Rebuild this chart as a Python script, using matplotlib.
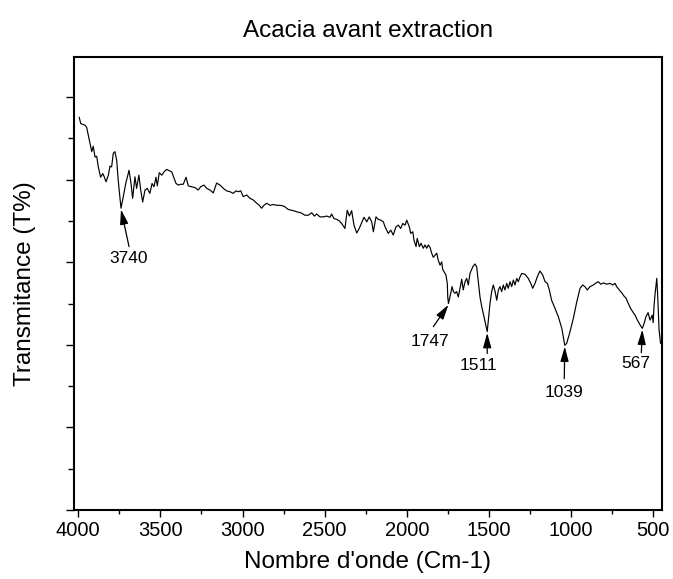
import numpy as np
import matplotlib
matplotlib.use("Agg")
import matplotlib.pyplot as plt
from matplotlib.ticker import MultipleLocator, NullFormatter

# FTIR spectrum of Acacia before extraction
wavenumber = [
    3994, 3985, 3959, 3949, 3933, 3918, 3909, 3898, 3888, 3878, 3864, 3851, 3842, 3831,
    3817, 3807, 3797, 3787, 3777, 3766, 3757, 3740, 3726, 3711, 3691, 3679, 3669, 3655,
    3645, 3631, 3620, 3608, 3594, 3580, 3564, 3551, 3539, 3527, 3519, 3507, 3492, 3478,
    3462, 3446, 3431, 3422, 3405, 3391, 3377, 3361, 3344, 3330, 3310, 3290, 3270, 3255,
    3235, 3218, 3198, 3178, 3158, 3137, 3117, 3097, 3077, 3057, 3040, 3026, 3011, 2996,
    2975, 2955, 2935, 2914, 2898, 2884, 2870, 2853, 2833, 2813, 2792, 2772, 2748, 2722,
    2691, 2667, 2646, 2620, 2600, 2579, 2563, 2549, 2529, 2509, 2488, 2468, 2458, 2444,
    2427, 2411, 2397, 2377, 2363, 2350, 2336, 2322, 2305, 2290, 2275, 2261, 2244, 2229,
    2214, 2204, 2188, 2174, 2159, 2143, 2133, 2113, 2098, 2083, 2066, 2052, 2038, 2025,
    2011, 2001, 1985, 1977, 1964, 1957, 1944, 1937, 1924, 1914, 1900, 1890, 1879, 1870,
    1859, 1849, 1839, 1829, 1818, 1809, 1798, 1788, 1782, 1768, 1762, 1754, 1751, 1747,
    1733, 1725, 1717, 1707, 1697, 1687, 1677, 1666, 1657, 1646, 1636, 1626, 1616, 1599,
    1585, 1575, 1565, 1555, 1544, 1535, 1524, 1511, 1504, 1494, 1484, 1474, 1463, 1453,
    1443, 1433, 1423, 1413, 1403, 1392, 1383, 1372, 1362, 1352, 1342, 1331, 1322, 1311,
    1301, 1281, 1261, 1246, 1234, 1220, 1206, 1190, 1173, 1159, 1145, 1133, 1119, 1098,
    1078, 1057, 1039, 1027, 1007, 987, 966, 946, 930, 916, 902, 885, 865, 849,
    835, 820, 804, 784, 764, 747, 733, 723, 707, 692, 678, 666, 652, 638,
    625, 611, 597, 580, 567, 556, 545, 532, 520, 507, 501, 496, 490, 479,
    473, 465, 456,
]
transmittance = [
    95.1, 93.6, 93.2, 92.7, 89.6, 86.8, 88.1, 85.5, 85.7, 83.1, 80.6, 81.5, 80.7, 79.5,
    81.1, 83.3, 83.1, 86.4, 86.8, 84.7, 79.9, 73.1, 75.9, 79.1, 82.3, 79.1, 75.5, 80.7,
    77.9, 81.1, 77.5, 74.6, 77.5, 77.9, 76.7, 79.1, 78.3, 80.6, 78.5, 81.7, 81.1, 81.9,
    82.5, 82.2, 81.9, 80.9, 79.1, 78.7, 78.9, 78.9, 80.6, 78.5, 78.3, 78.1, 77.5, 78.3,
    78.7, 77.9, 77.5, 76.8, 79.2, 78.7, 77.9, 77.3, 77.1, 76.7, 77.3, 77.1, 77.3, 75.9,
    76.3, 75.5, 75.1, 74.3, 73.8, 73.1, 73.8, 74.3, 73.8, 74.0, 73.8, 73.8, 73.6, 72.8,
    72.5, 72.2, 72.0, 71.4, 71.4, 72.0, 71.2, 71.7, 71.0, 71.0, 71.2, 70.9, 71.7, 70.6,
    70.4, 70.0, 69.4, 68.2, 72.6, 71.2, 72.5, 69.0, 67.1, 68.2, 69.6, 70.9, 69.8, 71.0,
    69.8, 67.4, 71.0, 70.4, 70.2, 69.8, 68.6, 67.0, 67.8, 66.6, 68.6, 69.0, 68.2, 69.4,
    69.0, 70.2, 68.6, 67.0, 67.4, 65.4, 63.8, 65.8, 63.8, 64.6, 63.4, 64.2, 63.4, 64.2,
    63.6, 62.2, 61.2, 61.7, 62.2, 60.5, 59.3, 60.1, 58.3, 57.3, 56.9, 54.9, 51.5, 50.0,
    52.5, 54.1, 52.9, 52.5, 52.9, 51.6, 53.7, 55.9, 53.3, 55.3, 56.1, 54.5, 57.3, 58.9,
    59.6, 58.9, 55.3, 51.6, 49.2, 47.6, 45.6, 43.2, 46.0, 50.0, 52.9, 54.5, 52.9, 50.8,
    53.3, 54.1, 52.9, 54.5, 53.3, 54.9, 53.7, 55.3, 54.1, 55.7, 54.5, 56.1, 55.3, 56.5,
    57.3, 57.1, 56.1, 54.9, 53.7, 54.9, 56.5, 57.9, 56.9, 55.3, 54.9, 53.3, 50.8, 48.8,
    46.8, 44.0, 39.9, 40.4, 43.2, 46.4, 50.4, 53.7, 54.5, 54.1, 53.3, 54.1, 54.5, 55.0,
    55.3, 54.7, 55.0, 54.7, 54.9, 54.5, 54.9, 54.1, 53.3, 52.6, 51.8, 51.3, 50.0, 48.8,
    48.0, 47.2, 46.0, 44.8, 44.0, 45.2, 46.8, 47.8, 46.0, 47.2, 45.4, 49.2, 52.1, 56.1,
    51.6, 43.6, 40.4,
]

# Marked absorption bands
peak_positions = [3740, 1747, 1511, 1039, 567]
peak_labels = [str(p) for p in peak_positions]

# Label / arrow-tail offsets from each arrow tip (wavenumber, transmittance units)
label_offsets = [(-44, -11.9), (112, -9.0), (51, -8.0), (6, -11.1), (38, -8.2)]
tail_offsets = [(-49, -9.0), (92, -5.3), (0, -5.0), (3, -7.8), (6, -5.6)]

plt.rcParams["font.family"] = ["Liberation Sans", "DejaVu Sans"]

fig = plt.figure(figsize=(6.73, 5.79), dpi=100)
W, H = 673, 579
left, right, top, bottom = 74, 661.7, 56.7, 510
ax = fig.add_axes([left / W, 1 - bottom / H, (right - left) / W, (bottom - top) / H])

ax.plot(wavenumber, transmittance, color="black", lw=0.85)

ax.set_xlim(4026, 449)
ax.set_ylim(0, 109.8)

ax.xaxis.set_major_locator(MultipleLocator(500))
ax.xaxis.set_minor_locator(MultipleLocator(250))
ax.yaxis.set_major_locator(MultipleLocator(20))
ax.yaxis.set_minor_locator(MultipleLocator(10))
ax.yaxis.set_major_formatter(NullFormatter())

ax.tick_params(axis="x", which="major", direction="out", length=5, width=1.0,
               labelsize=14.5, pad=3, top=False)
ax.tick_params(axis="x", which="minor", direction="out", length=3, width=1.0, top=False)
ax.tick_params(axis="y", which="major", direction="out", length=6, width=1.0, right=False)
ax.tick_params(axis="y", which="minor", direction="out", length=4, width=1.0, right=False)

for side in ax.spines.values():
    side.set_linewidth(1.5)
    side.set_color("black")

ax.set_xlabel("Nombre d'onde (Cm-1)", fontsize=17.5, labelpad=8)
ax.set_ylabel("Transmitance (T%)", fontsize=17.5, labelpad=18)
ax.set_title("Acacia avant extraction", fontsize=17.5, pad=14)

wn_inc = np.array(wavenumber[::-1])
tr_inc = np.array(transmittance[::-1])
for pos, lab, (ldx, ldy), (tdx, tdy) in zip(peak_positions, peak_labels,
                                            label_offsets, tail_offsets):
    tip_y = float(np.interp(pos, wn_inc, tr_inc)) - 0.3
    ax.annotate("", xy=(pos, tip_y), xytext=(pos + tdx, tip_y + tdy),
                arrowprops=dict(arrowstyle="-|>,head_length=0.9,head_width=0.25",
                                color="black", lw=0.9, shrinkA=0, shrinkB=0,
                                mutation_scale=10))
    ax.text(pos + ldx, tip_y + ldy, lab, ha="center", va="center", fontsize=12.5)

fig.savefig("out.png", dpi=100)
